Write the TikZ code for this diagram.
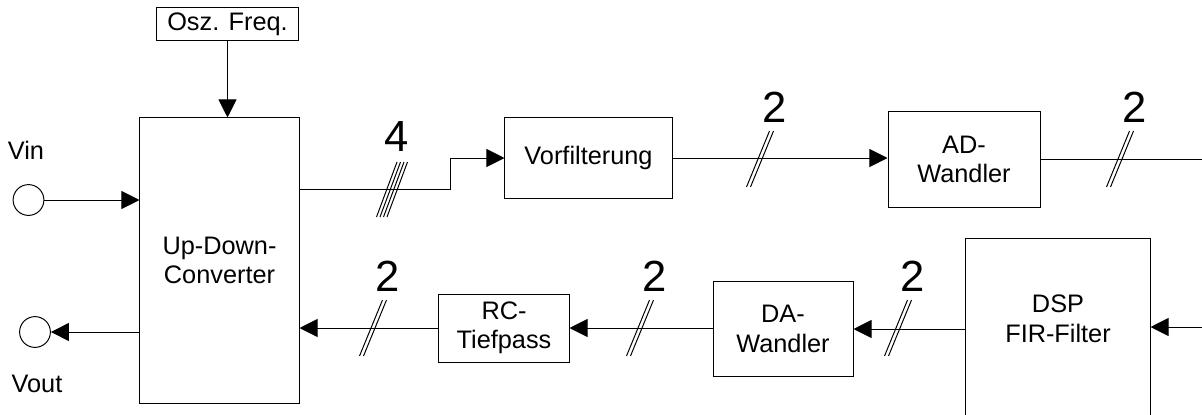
\documentclass[tikz,border=0pt]{standalone}
\usepackage{fontspec}
\setmainfont{Liberation Sans}
\usetikzlibrary{arrows.meta}

\begin{document}
\begin{tikzpicture}[x=0.025cm, y=-0.025cm,
    block/.style={draw, line width=0.7pt, align=center, font=\fontsize{18}{21}\selectfont},
    txt/.style={font=\fontsize{18}{21}\selectfont},
    wire/.style={line width=0.7pt},
    sig/.style={line width=0.7pt, -{Triangle[length=0.45cm, width=0.45cm]}},
    term/.style={draw, circle, line width=0.7pt, minimum size=0.77cm, inner sep=0pt},
    buslbl/.style={font=\fontsize{31}{31}\selectfont, inner sep=0pt}]

    \useasboundingbox (0,0) rectangle (1202,414);

    % blocks
    \node[block, minimum width=3.525cm, minimum height=0.8cm] (osz) at (227.5,24) {Osz. Freq.};
    \node[block, minimum width=3.975cm, minimum height=7.125cm] (udc) at (219.5,260.5) {Up-Down-\\Converter};
    \node[block, minimum width=4.175cm, minimum height=2cm] (vorf) at (588.5,158) {Vorfilterung};
    \node[block, minimum width=3.8cm, minimum height=2.375cm] (adw) at (964,159.5) {AD-\\Wandler};
    \node[block, minimum width=4.6cm, minimum height=4.425cm] (dsp) at (1058,327.5) {};
    \node[txt, align=center] (dsptxt) at (1058,319) {DSP\\FIR-Filter};
    \node[block, minimum width=3.5cm, minimum height=2.35cm] (daw) at (783,329) {DA-\\Wandler};
    \node[block, minimum width=3.25cm, minimum height=1.7cm] (rc) at (504,328) {RC-\\Tiefpass};

    % in/out
    \node[term] (vin) at (28.5,200) {};
    \node[term] (vout) at (35,332) {};
    \node[txt] (vinlbl) at (26,150) {Vin};
    \node[txt] (voutlbl) at (37,384) {Vout};

    \coordinate (k4) at (450,189);
    \coordinate (outr) at (1202,159);
    \coordinate (inr) at (1202,327);

    % signals
    \draw[sig] (osz.south) -- (osz.south |- udc.north);
    \draw[sig] (vin) -- (vin -| udc.west);
    \draw[sig] (udc.west |- vout) -- (vout);
    \draw[sig] (udc.east |- k4) -- (k4) |- (vorf.west);
    \draw[sig] (vorf.east) -- (vorf.east -| adw.west);
    \draw[wire] (adw.east |- outr) -- (outr);
    \draw[sig] (inr) -- (inr -| dsp.east);
    \draw[sig] (dsp.west |- daw) -- (daw.east);
    \draw[sig] (daw.west |- rc) -- (rc.east);
    \draw[sig] (rc.west) -- (rc.west -| udc.east);

    % bus marks
    \foreach \bx/\by [count=\i] in {760/159, 1120/159, 373/328, 640/328, 898/328} {
      \foreach \o in {-2,2}
        \draw[wire] ({\bx+\o+11.5},{\by-28}) -- ({\bx+\o-11.5},{\by+28});
      \node[buslbl] (bus\i) at ({\bx+15},{\by-52}) {2};
    }
    \foreach \o in {-5.25,-1.75,1.75,5.25}
      \draw[wire] ({392+\o+10.25},162) -- ({392+\o-10.25},217);
    \node[buslbl] (busfour) at (397,137) {4};

\end{tikzpicture}
\end{document}
